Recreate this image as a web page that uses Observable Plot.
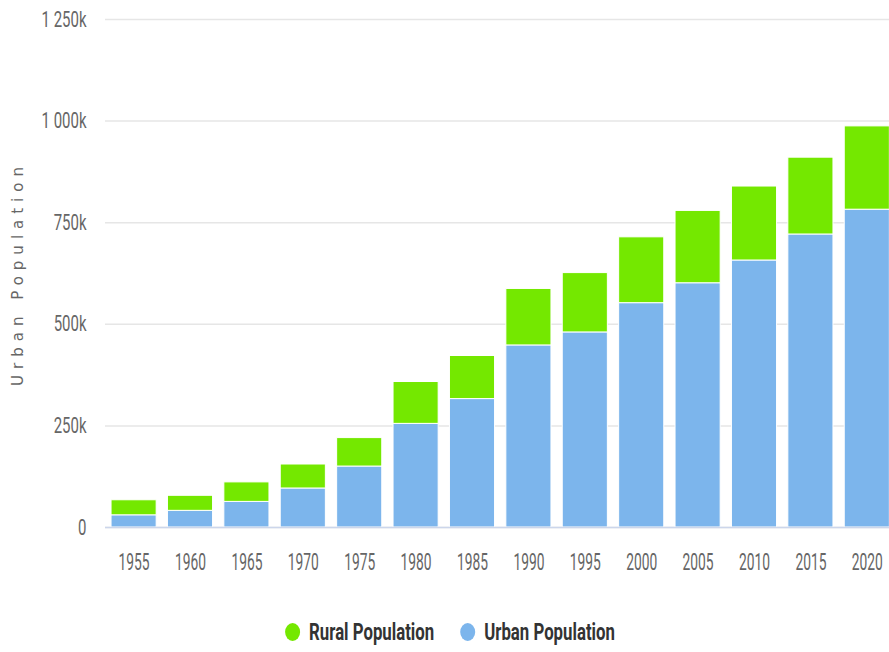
<!DOCTYPE html>
<html>
<head>
<meta charset="utf-8">
<script src="https://cdn.jsdelivr.net/npm/d3@7"></script>
<script src="https://cdn.jsdelivr.net/npm/@observablehq/plot@0.6"></script>
<style>
  html, body { margin: 0; padding: 0; background: #fff; overflow: hidden; }
  #chart svg { display: block; overflow: hidden; }
  #legend svg { display: block; }
  .ylab text { letter-spacing: 6px; }
</style>
</head>
<body>
<div id="chart"></div>
<div id="legend"></div>
<script>
const years = [1955, 1960, 1965, 1970, 1975, 1980, 1985, 1990, 1995, 2000, 2005, 2010, 2015, 2020];
const urban = [30000, 41000, 63000, 96000, 150000, 255000, 316000, 448000, 480000, 552000, 601000, 657000, 721000, 782000];
const rural = [37000, 37000, 48000, 59000, 70000, 103000, 106000, 139000, 146000, 162000, 178000, 182000, 189000, 205000];
const yTicks = [0, 250000, 500000, 750000, 1000000, 1250000];
const seriesNames = ["Urban Population", "Rural Population"];
const seriesColors = ["#7cb5ec", "#74e800"];
const legendOrder = ["Rural Population", "Urban Population"];

const rows = [];
years.forEach((yr, i) => rows.push({year: yr, series: seriesNames[0], value: urban[i]}));
years.forEach((yr, i) => rows.push({year: yr, series: seriesNames[1], value: rural[i]}));

const fmt = d => d === 0 ? "0" : d3.format(",")(d / 1000).replace(/,/g, " ") + "k";
const tickFont = "Roboto, Liberation Sans, sans-serif";

const plot = Plot.plot({
  width: 889,
  height: 600,
  marginLeft: 105,
  marginRight: 0,
  marginTop: 19,
  marginBottom: 73,
  style: {background: "#fff"},
  x: {type: "band", domain: years, range: [105.4, 895], paddingInner: 0.2, paddingOuter: 0.1, round: false, label: null},
  y: {domain: [0, 1250000], label: null},
  color: {domain: seriesNames, range: seriesColors},
  marks: [
    Plot.gridY(yTicks, {stroke: "#e6e6e6", strokeOpacity: 1, strokeWidth: 1.5}),
    Plot.barY(rows, {x: "year", y: "value", fill: "series", stroke: "#fff", strokeWidth: 1}),
    Plot.ruleY([0], {stroke: "#ccd6eb", strokeWidth: 1.5}),
    Plot.axisY({ticks: yTicks, tickFormat: fmt, tickSize: 0, tickPadding: 19, fontSize: 22, fill: "#666", fontFamily: tickFont, label: null}),
    Plot.axisX({tickFormat: d => String(d), tickSize: 0, tickPadding: 26, fontSize: 23, fill: "#666", fontFamily: tickFont, label: null}),
    Plot.text(["Urban Population"], {text: d => d, frameAnchor: "left", dx: -87, rotate: -90, textAnchor: "middle", fontSize: 15, fill: "#666", fontFamily: "DejaVu Sans, sans-serif", className: "ylab"})
  ]
});
document.getElementById("chart").appendChild(plot);

// condense the tick label glyphs horizontally (reference uses a narrow face)
function condense(sel, k) {
  sel.each(function() {
    const w = this.getComputedTextLength();
    this.setAttribute("textLength", (w * k).toFixed(1));
    this.setAttribute("lengthAdjust", "spacingAndGlyphs");
  });
}
condense(d3.select(plot).selectAll("g[aria-label='x-axis tick label'] text"), 0.6);
condense(d3.select(plot).selectAll("g[aria-label='y-axis tick label'] text"), 0.68);

// legend
const lsvg = d3.select("#legend").append("svg").attr("width", 889).attr("height", 52);
const items = lsvg.selectAll("g").data(legendOrder).join("g");
items.append("ellipse").attr("rx", 7.5).attr("ry", 9).attr("cy", 32)
  .attr("fill", d => seriesColors[seriesNames.indexOf(d)]);
items.append("text").text(d => d).attr("y", 32).attr("dy", "0.36em")
  .attr("font-family", tickFont).attr("font-weight", "bold").attr("font-size", 23).attr("fill", "#333");
condense(items.selectAll("text"), 0.73);
let widths = [];
items.each(function() { widths.push(15 + 9 + (+d3.select(this).select("text").attr("textLength"))); });
const gap = 26;
const total = d3.sum(widths) + gap * (widths.length - 1);
let x0 = 450 - total / 2;
items.each(function(d, i) {
  const g = d3.select(this);
  g.select("ellipse").attr("cx", x0 + 7.5);
  g.select("text").attr("x", x0 + 24);
  x0 += widths[i] + gap;
});
</script>
</body>
</html>
